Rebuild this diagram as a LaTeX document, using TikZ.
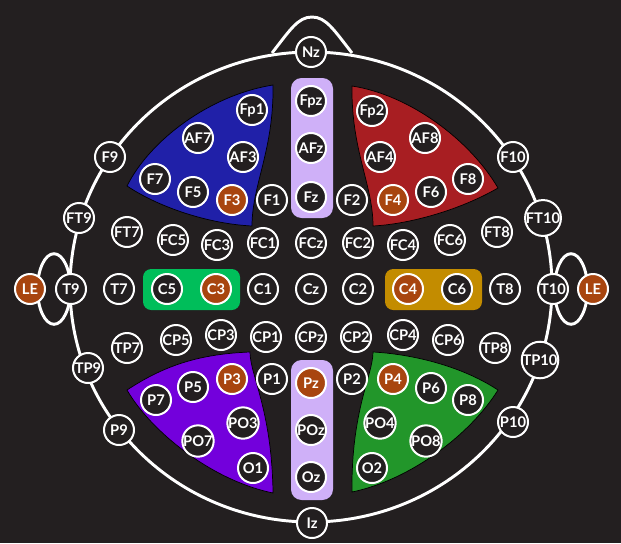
\documentclass[tikz,border=0pt]{standalone}
\usepackage{fontspec}
\newfontfamily\elfont{Lato}
\usepackage{xcolor}
\definecolor{bg}{HTML}{231F20}
\definecolor{marked}{HTML}{A8450F}
\definecolor{lavender}{HTML}{CFB0F8}
\definecolor{blueS}{HTML}{2020A8}
\definecolor{redS}{HTML}{A81E22}
\definecolor{purpleS}{HTML}{7300DC}
\definecolor{greenS}{HTML}{22962A}
\definecolor{greenB}{HTML}{00BE5A}
\definecolor{yellowB}{HTML}{C38C00}

\begin{document}
\begin{tikzpicture}[
  x=0.85pt, y=-0.85pt,
  elec/.style={circle, draw=white, line width=1.7pt, fill=bg, minimum size=25.5pt,
    inner sep=0pt, text=white, font=\elfont\bfseries\fontsize{12.5}{13}\selectfont},
  hilite/.style={elec, fill=marked},
  sector/.style={draw=black, line width=0.6pt},
  strip/.style={fill=lavender, rounded corners=9pt},
  chanbox/.style={rounded corners=7pt},
  head/.style={draw=white, line width=2.5pt},
]
% --- background ---
\fill[bg] (0,0) rectangle (621,543);
\useasboundingbox (0,0) rectangle (621,543);

% --- head, nose, ears ---
\draw[head] (311,287) ellipse [x radius=204.85pt, y radius=199.75pt];
\draw[head] (272,53) .. controls (290,30) and (298,17) .. (312,17)
  .. controls (326,17) and (334,30) .. (352,53);
\draw[head] (54,289) ellipse [x radius=14pt, y radius=30pt];
\draw[head] (571,289) ellipse [x radius=14pt, y radius=30pt];

% --- regions ---
\filldraw[sector, fill=blueS] (273,85) .. controls (210,95) and (150,140) .. (127,186)
  .. controls (160,208) and (210,224) .. (252,226)
  .. controls (252,185) and (274,150) .. (273,85) -- cycle;
\filldraw[sector, fill=redS] (352,86) .. controls (410,95) and (470,140) .. (498,188)
  .. controls (460,210) and (410,224) .. (373,226)
  .. controls (373,185) and (351,150) .. (352,86) -- cycle;
\filldraw[sector, fill=purpleS] (127,390) .. controls (165,365) and (200,354) .. (250,352)
  .. controls (250,375) and (272,410) .. (273,493)
  .. controls (210,480) and (150,430) .. (127,390) -- cycle;
\filldraw[sector, fill=greenS] (373,352) .. controls (410,354) and (460,365) .. (498,390)
  .. controls (470,435) and (410,480) .. (352,492)
  .. controls (351,410) and (373,375) .. (373,352) -- cycle;

% midline strips and central boxes
\fill[strip] (291,78) rectangle (333,218);
\fill[strip] (291,360) rectangle (333,500);
\fill[chanbox, greenB] (143,269) rectangle (240,310);
\fill[chanbox, yellowB] (385,269) rectangle (482,310);

% --- electrodes ---
\node[elec] (Nz) at (311,52) {Nz};
\node[elec] (Fpz) at (311,101) {Fpz};
\node[elec] (AFz) at (311,148) {AFz};
\node[elec] (Fz) at (311,197) {Fz};
\node[elec] (Fp1) at (252,110) {Fp1};
\node[elec] (Fp2) at (372,111) {Fp2};
\node[elec] (AF7) at (198,138) {AF7};
\node[elec] (AF3) at (243,157) {AF3};
\node[elec] (AF4) at (380,157) {AF4};
\node[elec] (AF8) at (425,138) {AF8};

\node[elec] (F9) at (110,157) {F9};
\node[elec] (F7) at (155,179) {F7};
\node[elec] (F5) at (193,192) {F5};
\node[hilite] (F3) at (232,200) {F3};
\node[elec] (F1) at (272,200) {F1};
\node[elec] (F2) at (352,200) {F2};
\node[hilite] (F4) at (393,200) {F4};
\node[elec] (F6) at (431,192) {F6};
\node[elec] (F8) at (468,179) {F8};
\node[elec] (F10) at (513,157) {F10};

\node[elec] (FT9) at (79,218) {FT9};
\node[elec] (FT7) at (127,232) {FT7};
\node[elec] (FC5) at (173,240) {FC5};
\node[elec] (FC3) at (217,245) {FC3};
\node[elec] (FC1) at (263,243) {FC1};
\node[elec] (FCz) at (311,243) {FCz};
\node[elec] (FC2) at (358,243) {FC2};
\node[elec] (FC4) at (403,245) {FC4};
\node[elec] (FC6) at (450,240) {FC6};
\node[elec] (FT8) at (497,232) {FT8};
\node[elec] (FT10) at (543,218) {FT10};

\node[hilite] (LEl) at (30,289) {LE};
\node[elec] (T9) at (71,289) {T9};
\node[elec] (T7) at (119,289) {T7};
\node[elec] (C5) at (167,289) {C5};
\node[hilite] (C3) at (216,289) {C3};
\node[elec] (C1) at (263,289) {C1};
\node[elec] (Cz) at (311,289) {Cz};
\node[elec] (C2) at (358,289) {C2};
\node[hilite] (C4) at (408,289) {C4};
\node[elec] (C6) at (457,289) {C6};
\node[elec] (T8) at (505,289) {T8};
\node[elec] (T10) at (553,289) {T10};
\node[hilite] (LEr) at (593,289) {LE};

\node[elec] (TP9) at (88,368) {TP9};
\node[elec] (TP7) at (127,348) {TP7};
\node[elec] (CP5) at (176,340) {CP5};
\node[elec] (CP3) at (221,335) {CP3};
\node[elec] (CP1) at (266,337) {CP1};
\node[elec] (CPz) at (311,337) {CPz};
\node[elec] (CP2) at (356,337) {CP2};
\node[elec] (CP4) at (403,335) {CP4};
\node[elec] (CP6) at (448,340) {CP6};
\node[elec] (TP8) at (495,348) {TP8};
\node[elec] (TP10) at (540,360) {TP10};

\node[elec] (P9) at (119,430) {P9};
\node[elec] (P7) at (156,400) {P7};
\node[elec] (P5) at (193,387) {P5};
\node[hilite] (P3) at (232,379) {P3};
\node[elec] (P1) at (272,379) {P1};
\node[hilite] (Pz) at (311,383) {Pz};
\node[elec] (P2) at (352,379) {P2};
\node[hilite] (P4) at (393,379) {P4};
\node[elec] (P6) at (431,388) {P6};
\node[elec] (P8) at (468,400) {P8};
\node[elec] (P10) at (513,422) {P10};

\node[elec] (PO7) at (198,441) {PO7};
\node[elec] (PO3) at (243,423) {PO3};
\node[elec] (POz) at (311,430) {POz};
\node[elec] (PO4) at (380,423) {PO4};
\node[elec] (PO8) at (426,441) {PO8};
\node[elec] (O1) at (253,468) {O1};
\node[elec] (Oz) at (311,477) {Oz};
\node[elec] (O2) at (372,468) {O2};
\node[elec] (Iz) at (312,523) {Iz};
\end{tikzpicture}
\end{document}
